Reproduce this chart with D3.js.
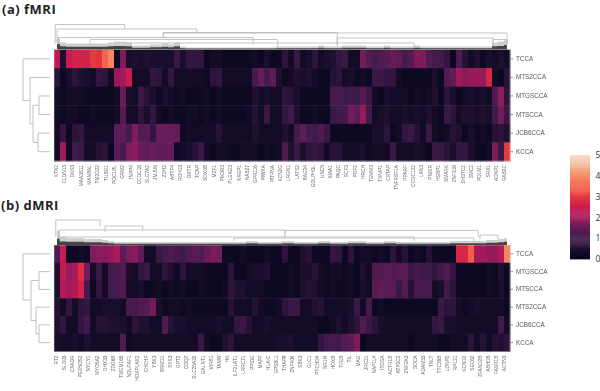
<!DOCTYPE html>
<html>
<head>
<meta charset="utf-8">
<script src="https://cdn.jsdelivr.net/npm/d3@7"></script>
<style>
html, body { margin: 0; padding: 0; background: #fff; }
svg { display: block; }
.soft { filter: blur(0.5px); }
.softer { filter: blur(0.25px); }
</style>
</head>
<body>
<div id="chart"></div>
<script>
// row order and gene labels
var rowsA = ["TCCA", "MTS2CCA", "MTGSCCA", "MTSCCA", "JCB6CCA", "KCCA"];
var rowsB = ["TCCA", "MTGSCCA", "MTSCCA", "MTS2CCA", "JCB6CCA", "KCCA"];

var genesA = ["KTN2", "CLDN13", "DKK3", "MAA3S11", "MANBAL", "TM2D22", "TUBG1", "POC1BL", "GRM2", "INPP4", "CCDC18",
    "SLC7A2", "JMJD6", "ZDH2", "ABTF4", "RDH13", "OXTR", "TCAP", "SOX3B", "MZF1", "PIK3R3", "PLEKG3", "NREP1", "NAB27",
    "GPR116", "PIWXA", "PITPNA", "KCN2G", "LRGN1", "LATS2", "BAG24", "GOLPH3L", "UNC5", "KIAA1", "PAQC", "SCF3", "POF2",
    "HRCH", "TEMM3", "TXNIP1", "CRTAP", "TNFRSF1A", "PPARF", "CCDC122", "LAN3", "PNISR", "HSBP1", "SMARK", "ZNF318",
    "SH3TC2", "SMC2", "PDLM1", "SRX1", "ADNP1", "RAB2C"];
var genesB = ["RT2", "SLD03", "CXADR", "PEX5OS2", "NYCY1", "MYO5A2", "DHX33", "ZDG6B", "TMEM165", "NDUFAF1", "HOXPLAX2",
    "CHCHF", "YBX3", "BRMD1", "SYK3", "GPT2", "COQ7", "SLC25A32", "GALNT1", "VIRB1", "TANW", "HK", "ILF2LAT1", "LRRC71",
    "PPIDE", "MAP7", "HLA-C", "EPS8L1", "THAP9", "ZNF404", "SBK3", "GLC1", "PTCHD4", "NR1I4", "HOXB", "TFEB", "TIL",
    "MAG", "JRC21", "NAP1L4", "ITGSA", "ACTR1B", "ATP2C2", "ZNF2A3", "SOCA", "ADAM33", "TNLT", "TTC26B", "LONP2",
    "RPL21", "KCND2", "SEC62", "ZFAND2B", "ABHD5", "FAM71B", "ACTN3"];

// heatmap (a), one array per row, 76 columns left to right
var aTCCA = [2.3,.5,2.5,2.6,2.6,2.6,3.0,2.9,3.5,3.9,
    .2,1.7,.4,.5,.4,.5,.4,.4,.4,.4,
    .9,.4,.8,.8,.8,.2,.3,.3,.2,.2,
    .2,.2,.2,.3,.2,.4,.2,.2,.7,.3,
    .9,.3,.4,.7,.3,.4,.5,.8,.9,.3,
    .3,1.6,1.3,1.1,1.2,1.3,1.5,1.4,1.1,1.3,
    1.7,1.7,1.2,1.1,1.0,.8,.2,1.2,.6,.3,
    .5,.2,.4,.3,.5,.3];
var aMTS2 = [.7,.2,.4,.7,.5,.4,.3,.8,.7,.3,
    1.9,2.0,2.5,.3,.3,.3,.8,.7,.3,.8,
    .3,.3,.3,.3,.3,.2,.7,.8,.3,.3,
    .3,.3,.3,1.1,1.5,1.1,1.4,.5,.2,.3,
    .5,.4,.5,.3,.2,.2,.6,.7,.3,.4,
    .2,.3,.2,.9,.9,.8,.8,.3,.2,.2,
    .2,.2,.2,.4,.2,1.2,1.4,2.0,1.8,1.9,
    1.9,1.9,2.7,.3,.2,.6];
var aMTG = [.3,.2,.3,.3,.3,.2,.2,.2,.2,.2,
    .3,1.5,.4,.3,.9,.6,.4,.2,.4,.3,
    .2,.3,.2,.2,.2,.3,.2,.3,.2,.2,
    .2,.2,.2,.5,.3,.4,.3,.3,.7,.6,
    .4,.2,.2,.2,.2,.2,1.1,1.1,1.0,1.1,
    1.0,1.2,.9,.3,.2,.4,.3,.3,.3,.2,
    .3,.2,.3,.5,.2,.7,.4,.2,.3,.4,
    .3,.4,.3,1.2,1.8,.7];
var aMTS = [.3,.2,.3,.3,.2,.2,.3,.2,.2,.2,
    .3,1.3,.3,.3,.7,.4,.8,.3,.2,.3,
    .2,.2,.3,.3,.2,.3,.2,.3,.2,.2,
    .2,.2,.3,.6,.3,.9,.3,.3,.8,1.0,
    .5,.2,.2,.3,.2,.2,.9,1.0,1.1,1.6,
    1.4,1.9,1.0,.3,.4,.5,.3,.3,.4,.3,
    .4,.3,.5,.3,.2,.9,.7,.3,.5,.5,
    .4,.5,.4,1.0,1.6,.9];
var aJCB = [.3,.8,.2,.7,.8,.3,.3,.3,.3,.3,
    1.4,1.4,1.1,1.7,1.2,1.3,.8,1.5,1.5,1.5,
    1.5,.2,.3,.3,.3,.3,.3,.6,.3,.3,
    .3,.3,.3,.5,.3,.3,.3,.3,.5,.3,
    1.1,1.4,1.1,1.0,1.2,.9,.2,.2,.2,.2,
    .2,.2,.2,.4,.4,.7,.2,.3,.8,.9,
    .6,.3,.9,.3,.2,.3,.6,.5,.2,.4,
    .2,.3,.2,.6,.7,.5];
var aK = [.3,2.0,.2,1.0,.9,.3,.3,.6,.7,.2,
    1.4,1.1,1.7,1.8,1.5,1.4,1.5,1.4,1.4,1.5,
    .2,.3,.4,.6,.9,.3,.2,.3,.3,.2,
    .2,.3,.3,.3,.2,.3,.2,.3,1.2,.5,
    .9,.4,.7,.8,.7,.3,.6,.6,.3,.3,
    .3,.4,.2,.3,.3,.3,.9,.3,.3,.3,
    .4,.3,.2,.9,.9,.7,.4,.8,.8,.4,
    .2,.2,.3,1.7,.9,3.0];

// heatmap (b)
var bTCCA = [1.2,2.4,.2,.2,.3,.2,1.7,1.8,1.8,1.9,
    2.1,1.4,1.7,1.8,1.4,.3,.3,.9,1.1,1.2,
    1.1,1.0,1.2,1.3,1.2,1.5,1.7,1.6,.2,.2,
    .2,.3,.2,.2,.2,.3,.2,.2,.7,.2,
    .2,.5,.6,.2,.2,.2,.8,.7,.2,.7,
    .2,.3,.3,.2,.3,.2,.7,.3,.6,.2,
    .3,.2,.6,.2,.2,.2,.2,2.7,2.7,3.4,
    2.0,2.0,1.9,1.9,2.2,3.9];
var bMTG = [.5,2.4,1.9,2.1,2.8,1.6,.3,.9,.3,1.0,
    1.1,1.2,.4,.3,.8,.9,.3,.3,.7,.5,
    .3,.7,.3,.3,.3,.2,.2,.2,.2,.7,
    .2,.2,.3,.4,.4,.5,.2,.2,.2,.3,
    .2,.4,.4,.6,.3,.2,.3,.3,.2,.3,
    .2,.5,.3,1.2,1.2,1.3,1.2,1.3,1.3,.9,
    1.1,1.0,1.0,.8,1.0,1.2,.8,.2,.2,.2,
    .2,.2,.3,.2,.5,.2];
var bMTS = [.5,2.2,2.0,2.2,2.6,1.1,.2,.8,.3,1.0,
    1.1,1.2,.3,.3,.4,.2,.2,.3,.2,.3,
    .2,.3,.2,.2,.3,.2,.2,.2,.3,.7,
    .5,.5,.3,.3,.3,.2,.2,.2,.2,.3,
    .2,.5,.6,.5,.3,.2,.3,.2,.2,.3,
    .2,.4,.3,1.3,1.4,1.3,1.3,.9,1.2,.6,
    1.1,1.1,1.1,.3,.4,1.0,.7,.2,.2,.2,
    .2,.2,.3,.2,.4,.2];
var bMTS2 = [.6,.3,.8,.3,.7,.8,.3,.3,.4,.4,
    .4,.3,1.1,1.1,1.2,1.3,1.6,.4,.2,.3,
    .3,.2,.3,.2,.2,.2,.2,.2,.2,.6,
    .3,.3,.3,.6,.3,.2,.2,.3,.7,.9,
    .9,.3,.3,.5,.6,.3,.3,.3,.3,.4,
    .9,.3,1.1,.2,.3,.2,.2,.2,.2,.2,
    .2,.2,.2,.2,.9,.7,.7,.3,.2,.3,
    .4,.3,.3,.3,.3,.2];
var bJCB = [.5,.8,.3,.3,.8,1.0,.3,.6,.6,.5,
    .5,.4,.3,.7,.5,.5,.3,.3,1.2,.6,
    .4,.4,.3,.3,.3,.3,.3,.4,.3,.3,
    .8,.9,.6,.3,.3,.4,.3,.3,.3,.3,
    .3,.3,.3,.3,.2,.2,.3,.5,.3,.5,
    .7,1.2,.9,.7,.4,.3,.3,.3,.3,.3,
    .3,.3,.3,.8,.9,.4,.4,.3,.3,.3,
    .3,.3,.3,.3,1.0,.3];
var bK = [.4,.3,.3,.4,.3,.5,.3,.3,.3,.3,
    .3,1.2,.2,.3,.3,.3,.3,.3,.3,.3,
    .3,.3,.3,.3,.9,.3,.2,.2,.5,.7,
    .3,.3,.3,.3,.3,.3,.3,.4,.4,.5,
    .3,.3,.3,.3,.8,1.0,1.1,1.0,1.3,1.4,
    1.7,.2,.3,.3,.3,.3,.3,.3,.3,.2,
    .3,.3,.3,.3,.2,.2,.3,.3,.3,.7,
    .3,.6,.3,.6,.5,.7];

// height of the dense dendrogram leaves above each column
var fuzzA = [12,7,6,6,6,6,6,6,6,7, 8,8,7,4,4,4,5,5,6,5, 7,3,2,2,2,2,2,2,2,2,
    2,2,2,2,2,2,2,3,3,3, 3,3,3,3,4,3,3,3,4,4, 4,4,3,3,3,4,3,3,3,3,
    4,3,3,3,3,3,3,3,3,3, 3,3,3,7,8,10];
var fuzzB = [14,8,7,7,7,6,6,6,5,4, 3,3,3,3,3,3,3,3,3,3, 3,3,3,3,3,3,3,3,3,3,
    3,3,4,4,3,3,3,3,4,4, 3,3,3,3,4,4,3,3,3,4, 4,4,3,3,3,4,4,3,3,3,
    3,3,3,3,3,3,4,4,4,4, 4,4,5,5,6,7];

// upper dendrogram links: [column from, column to, height, left leg end, right leg end]
var colLinksA = [[.2,11.8,25,6,21], [.5,23.8,20.5,6,17], [18.2,75.5,16.5,12.5,3], [18.2,47.2,17,12,4],
    [.7,33.2,12,5,5], [6,37.3,10,5,3], [12,60,6.5,3,3], [47.2,73.2,11.5,4,4], [73.2,75.5,10,4,5]];
var colLinksB = [[.3,7.7,25,8,19], [8.5,14.8,19,13,15], [.8,38.5,15,6,8], [38.5,70.7,14.5,8,8],
    [71,74,10,6,6], [1,60,8,4,4], [30,70,7,4,3]];

// left dendrogram links: [row from, row to, distance, upper leg end, lower leg end]
var rowLinksA = [[2,3,11,0,0], [4,5,12,0,0], [2.5,4.5,17,11,12], [1,3.5,20,0,17], [0,2.25,27,0,20]];
var rowLinksB = [[1,2,11,0,0], [4,5,11,0,0], [3,4.5,14,0,11], [1.5,3.75,19,11,14], [0,2.6,27,0,19]];

// rocket colour stops
var rocketStops = ["#03051a", "#1f1030", "#3f1a4c", "#661c58", "#a31a5c", "#cb1b4f", "#e8393e", "#f1664c", "#f58f68", "#f6b795", "#f8dfc8"];
var colorTicks = [0, 1, 2, 3, 4, 5];

var color = d3.scaleLinear()
    .domain(d3.range(rocketStops.length).map(function(i) { return i * 0.5; }))
    .range(rocketStops);

var svg = d3.select("#chart").append("svg")
    .attr("width", 600)
    .attr("height", 391);

function drawPanel(opts) {
    var g = svg.append("g");
    var x = d3.scaleBand().domain(d3.range(opts.values[0].length)).range([54, 510]);
    var y = d3.scaleBand().domain(opts.rows).range([opts.top, opts.bottom]);
    var colX = d3.scaleLinear().domain([0, 76]).range([54, 510]);
    var h = d3.scaleLinear().domain([0, 25]).range([opts.top, opts.top - 25]);
    var rowDist = d3.scaleLinear().domain([0, 27]).range([50, 23]);
    var rowY = d3.scaleLinear().domain([0, 6]).range([opts.top + y.bandwidth() / 2, opts.bottom + y.bandwidth() / 2]);

    // heatmap cells
    var cells = g.append("g").attr("class", "soft");
    opts.rows.forEach(function(row, r) {
        cells.selectAll(null)
            .data(opts.values[r])
            .enter().append("rect")
            .attr("x", function(d, i) { return x(i); })
            .attr("y", y(row))
            .attr("width", x.bandwidth() + 0.5)
            .attr("height", y.bandwidth() + 0.5)
            .attr("fill", function(d) { return color(d); });
    });

    g.append("rect")
        .attr("x", 54).attr("y", opts.top)
        .attr("width", 456).attr("height", opts.bottom - opts.top)
        .attr("fill", "none").attr("stroke", "#ddd").attr("stroke-width", 0.5);

    // upper dendrogram, dense leaves first
    var fuzz = g.append("g").attr("class", "soft");
    var area = d3.area()
        .x(function(d, i) { return x(i) + x.bandwidth() / 2; })
        .y0(opts.top)
        .curve(d3.curveStep);
    fuzz.append("path").datum(opts.fuzz)
        .attr("d", area.y1(function(d) { return h(d); }))
        .attr("fill", "#cfcfcf");
    fuzz.append("path").datum(opts.fuzz)
        .attr("d", area.y1(function(d) { return h(d * 0.45); }))
        .attr("fill", "#444");

    var links = g.append("g").attr("class", "softer").attr("fill", "none");
    links.selectAll("path")
        .data(opts.colLinks)
        .enter().append("path")
        .attr("d", function(d) {
            return "M" + colX(d[0]) + "," + h(d[3]) + "V" + h(d[2]) + "H" + colX(d[1]) + "V" + h(d[4]);
        })
        .attr("stroke", "#bdbdbd")
        .attr("stroke-width", 0.9);

    // left dendrogram
    links.selectAll("path.row")
        .data(opts.rowLinks)
        .enter().append("path")
        .attr("class", "row")
        .attr("d", function(d) {
            return "M" + rowDist(d[3]) + "," + rowY(d[0]) + "H" + rowDist(d[2]) + "V" + rowY(d[1]) + "H" + rowDist(d[4]);
        })
        .attr("stroke", "#c0c0c0")
        .attr("stroke-width", 1);

    // row labels
    var right = g.append("g")
        .attr("class", "softer")
        .attr("transform", "translate(510,0)")
        .call(d3.axisRight(y).tickSize(3).tickPadding(3));
    right.select(".domain").remove();
    right.selectAll("line").attr("stroke", "#666").attr("stroke-width", 0.7);
    right.selectAll("text")
        .attr("fill", "#555")
        .style("font", "6.3px 'Liberation Sans', sans-serif");

    // gene labels
    var gx = d3.scalePoint().domain(opts.genes).range([55.5, 504]);
    var bottom = g.append("g")
        .attr("class", "softer")
        .attr("transform", "translate(0," + opts.bottom + ")")
        .call(d3.axisBottom(gx).tickSize(0).tickPadding(0));
    bottom.select(".domain").remove();
    bottom.selectAll("text")
        .attr("fill", "#666")
        .attr("text-anchor", "end")
        .attr("dy", null)
        .attr("transform", "translate(1.8,4) rotate(-90)")
        .attr("x", 0).attr("y", 0)
        .style("font", "4.8px 'Liberation Sans', sans-serif");

    svg.append("text")
        .attr("x", opts.titleX).attr("y", opts.titleY)
        .attr("fill", "#222")
        .style("font", "bold 13px 'Open Sans', sans-serif")
        .style("letter-spacing", "0.5px")
        .text(opts.title);
}

drawPanel({
    title: "(a) fMRI", titleX: 2, titleY: 14,
    top: 49.5, bottom: 161,
    rows: rowsA, genes: genesA, fuzz: fuzzA,
    values: [aTCCA, aMTS2, aMTG, aMTS, aJCB, aK],
    colLinks: colLinksA, rowLinks: rowLinksA
});

drawPanel({
    title: "(b) dMRI", titleX: 1, titleY: 210,
    top: 245, bottom: 351.5,
    rows: rowsB, genes: genesB, fuzz: fuzzB,
    values: [bTCCA, bMTG, bMTS, bMTS2, bJCB, bK],
    colLinks: colLinksB, rowLinks: rowLinksB
});

// colour bar
var barY = d3.scaleLinear().domain([0, 5]).range([259, 155]);
var bar = svg.append("g");
bar.selectAll("rect")
    .data(d3.range(0, 5, 0.05))
    .enter().append("rect")
    .attr("x", 570).attr("width", 20)
    .attr("y", function(d) { return barY(d + 0.05); })
    .attr("height", barY(0) - barY(0.05) + 0.4)
    .attr("fill", function(d) { return color(d); });

var barAxis = svg.append("g")
    .attr("transform", "translate(590,0)")
    .call(d3.axisRight(barY).tickValues(colorTicks).tickFormat(d3.format("d")).tickSize(0).tickPadding(5.5));
barAxis.select(".domain").remove();
barAxis.selectAll("text")
    .attr("fill", "#333")
    .style("font", "8.5px 'Open Sans', sans-serif");
</script>
</body>
</html>
